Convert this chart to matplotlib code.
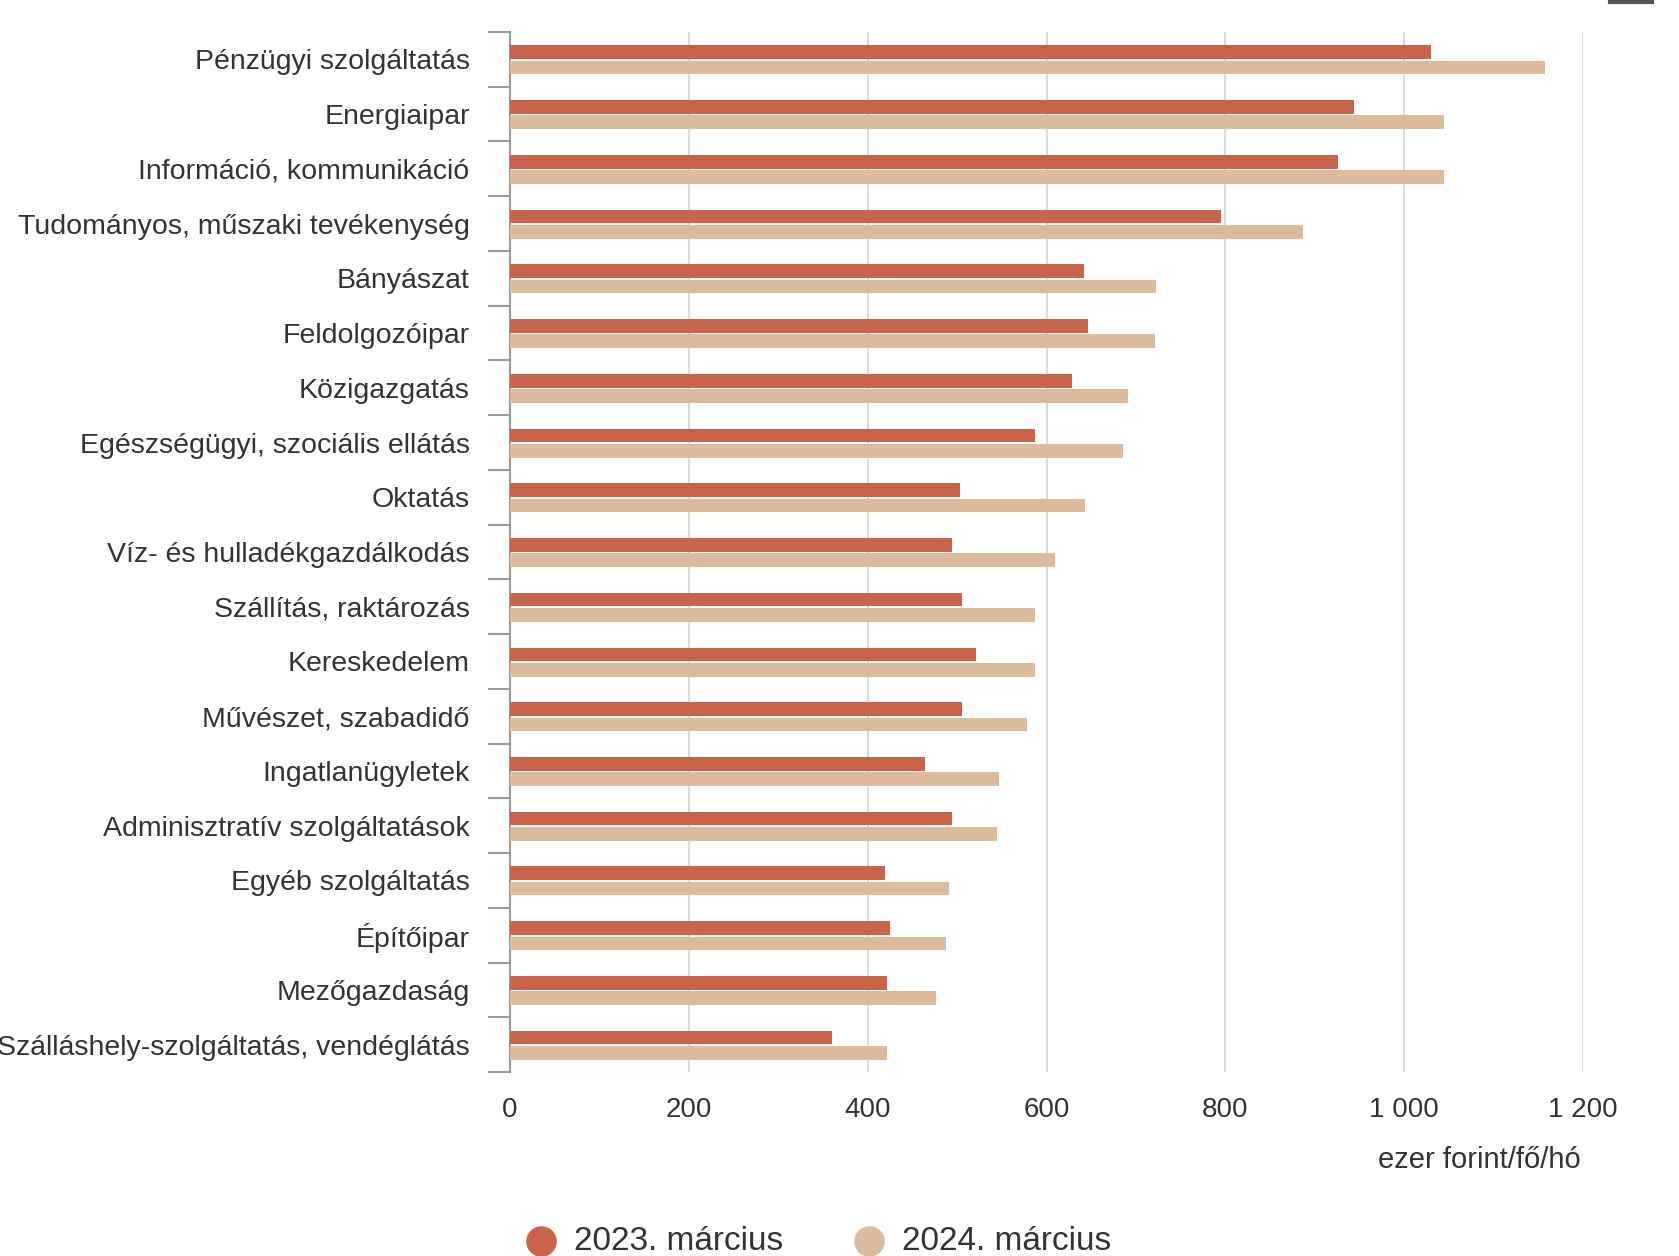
import matplotlib.pyplot as plt
import numpy as np
from matplotlib.lines import Line2D

plt.rcParams["font.family"] = ["Liberation Sans", "DejaVu Sans"]

categories = [
    "Pénzügyi szolgáltatás",
    "Energiaipar",
    "Információ, kommunikáció",
    "Tudományos, műszaki tevékenység",
    "Bányászat",
    "Feldolgozóipar",
    "Közigazgatás",
    "Egészségügyi, szociális ellátás",
    "Oktatás",
    "Víz- és hulladékgazdálkodás",
    "Szállítás, raktározás",
    "Kereskedelem",
    "Művészet, szabadidő",
    "Ingatlanügyletek",
    "Adminisztratív szolgáltatások",
    "Egyéb szolgáltatás",
    "Építőipar",
    "Mezőgazdaság",
    "Szálláshely-szolgáltatás, vendéglátás",
]
mar_2023 = [1030, 944, 926, 795, 642, 646, 628, 587, 503, 494, 506, 521,
            506, 464, 494, 419, 425, 422, 360]
mar_2024 = [1157, 1045, 1045, 887, 723, 721, 691, 685, 643, 610, 587, 587,
            578, 547, 545, 491, 488, 476, 422]
series_names = ["2023. március", "2024. március"]
xticks = [0, 200, 400, 600, 800, 1000, 1200]
xtick_labels = ["0", "200", "400", "600", "800", "1 000", "1 200"]

c23 = "#c9634a"
c24 = "#ddbb9d"
txt = "#333333"

W, H = 1679, 1256
fig = plt.figure(figsize=(W / 100, H / 100), dpi=100)
# plot area in pixel coords
left, right, top, bottom = 510, 1583, 32, 1072
ax = fig.add_axes([left / W, 1 - bottom / H, (right - left) / W, (bottom - top) / H])

y = np.arange(len(categories))
h = 0.25
ax.barh(y - 0.13, mar_2023, height=h, color=c23, label=series_names[0], zorder=3)
ax.barh(y + 0.15, mar_2024, height=h, color=c24, label=series_names[1], zorder=3)

ax.set_xlim(0, 1200)
ax.set_ylim(len(categories) - 0.5, -0.5)

# x axis: grid only, labels below
ax.set_xticks(xticks)
ax.set_xticklabels(xtick_labels)
ax.tick_params(axis="x", length=0, pad=18, labelsize=20, labelcolor=txt)
ax.grid(axis="x", color="#d8d8d8", linewidth=1.3, zorder=0)

# y axis: labels at categories, tick marks between them
ax.set_yticks(y)
ax.set_yticklabels(categories)
ax.tick_params(axis="y", length=0, pad=29, labelsize=20.5, labelcolor=txt)
ax.set_yticks(np.arange(-0.5, len(categories)), minor=True)
ax.tick_params(axis="y", which="minor", length=16, width=1.5, color="#9a9a9a")

for s in ["top", "right", "bottom"]:
    ax.spines[s].set_visible(False)
ax.spines["left"].set_color("#9a9a9a")
ax.spines["left"].set_linewidth(1.5)

fig.text(1581 / W, 1 - 1160 / H, "ezer forint/fő/hó", ha="right", va="center",
         fontsize=21, color=txt)

# legend at the bottom (partly cut by the image edge)
leg_y = 1 - 1241 / H
for cx, tx, col, name in [(541, 574, c23, series_names[0]),
                          (869, 902, c24, series_names[1])]:
    fig.add_artist(Line2D([cx / W], [leg_y], marker="o", markersize=21,
                          color=col, linestyle="none"))
    fig.text(tx / W, leg_y, name, ha="left", va="center", fontsize=24, color=txt)

# menu button remnant in the top right corner
fig.add_artist(Line2D([1610 / W, 1652 / W], [1 - 1.5 / H, 1 - 1.5 / H],
                      color="#555555", linewidth=3))

fig.savefig("out.png", dpi=100)
